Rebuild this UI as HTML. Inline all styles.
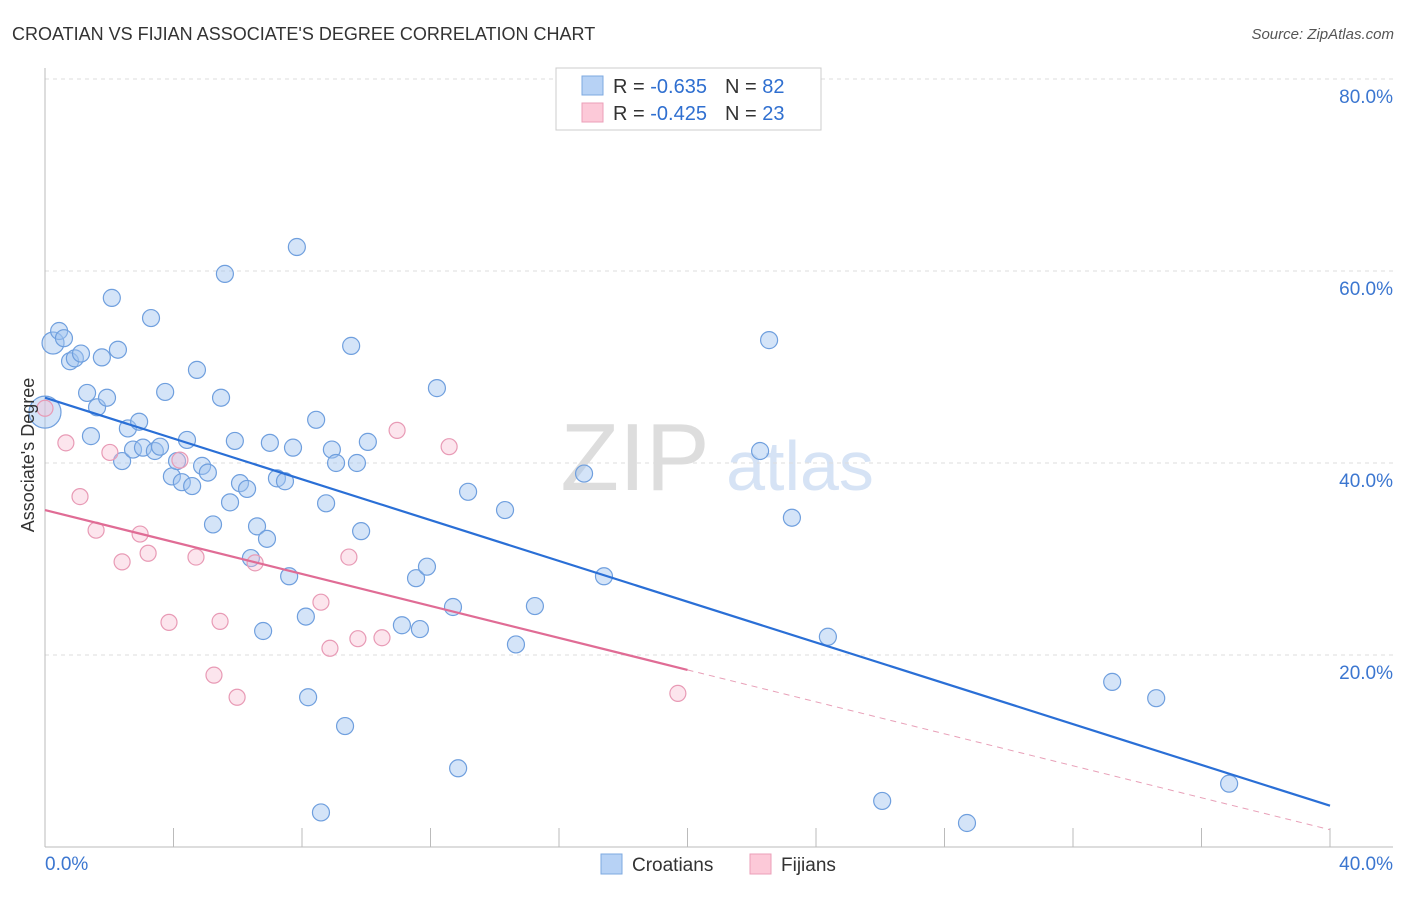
<!DOCTYPE html>
<html><head><meta charset="utf-8"><style>
body{margin:0;background:#fff;font-family:"Liberation Sans",sans-serif;}
svg text{font-family:"Liberation Sans",sans-serif;}
</style></head><body>
<svg id="chart" width="1406" height="892" xmlns="http://www.w3.org/2000/svg">
<text x="12" y="40" font-size="18" fill="#333">CROATIAN VS FIJIAN ASSOCIATE'S DEGREE CORRELATION CHART</text>
<text x="1394" y="39" font-size="15" fill="#555" text-anchor="end" font-style="italic">Source: ZipAtlas.com</text>
<g>
<text x="635" y="490" font-size="96" fill="#ddd" text-anchor="middle" font-family="Liberation Serif">ZIP</text>
<text x="800" y="490" font-size="70" fill="#d6e3f5" text-anchor="middle">atlas</text>
</g>
<g id="grid"></g>
<g id="axes"></g>
<g id="blue"></g>
<g id="pink"></g>
<g id="lines"></g>
<text transform="translate(34,455) rotate(-90)" font-size="18" fill="#333" text-anchor="middle">Associate's Degree</text>
<g>
<rect x="556" y="68" width="265" height="62" fill="#fff" stroke="#ccc"/>
<rect x="582" y="76" width="21" height="19" fill="#b7d2f5" stroke="#7ea9e0"/>
<rect x="582" y="103" width="21" height="19" fill="#fcc9d8" stroke="#eb9fb8"/>
<text x="613" y="93" font-size="20" fill="#333">R = <tspan fill="#2f6fd0">-0.635</tspan><tspan dx="18">N = </tspan><tspan fill="#2f6fd0">82</tspan></text>
<text x="613" y="120" font-size="20" fill="#333">R = <tspan fill="#2f6fd0">-0.425</tspan><tspan dx="18">N = </tspan><tspan fill="#2f6fd0">23</tspan></text>
</g>
<g>
<rect x="601" y="854" width="21" height="20" fill="#b7d2f5" stroke="#7ea9e0"/>
<text x="632" y="871" font-size="19" fill="#333">Croatians</text>
<rect x="750" y="854" width="21" height="20" fill="#fcc9d8" stroke="#eb9fb8"/>
<text x="781" y="871" font-size="19" fill="#333">Fijians</text>
</g>
</svg>
<script>
const yTicks=[20,40,60,80];
const yTickLabels=["20.0%","40.0%","60.0%","80.0%"];
const blueX=[0.25,0.44,0.59,0.78,0.93,1.12,0,1.31,1.43,1.62,1.77,1.93,2.08,2.27,2.40,2.58,2.74,2.93,3.05,3.30,3.42,3.58,3.74,3.95,4.11,4.26,4.42,4.58,4.73,4.89,5.07,5.23,5.48,5.60,5.76,5.91,6.07,6.29,6.41,6.60,6.79,6.91,7.00,7.22,7.47,7.60,7.72,7.84,8.12,8.19,8.44,8.59,8.75,8.93,9.06,9.34,9.53,9.71,9.84,10.05,11.11,11.55,11.67,11.89,12.20,12.70,12.86,13.17,14.32,14.66,15.25,16.78,17.40,22.26,22.54,23.25,24.37,26.06,28.70,33.22,34.59,36.86];
const blueY=[52.5,53.75,53.0,50.6,50.9,51.4,45.3,47.3,42.8,45.8,51.0,46.8,57.2,51.8,40.2,43.6,41.4,44.3,41.6,55.1,41.25,41.7,47.4,38.6,40.2,38.0,42.4,37.6,49.7,39.7,39.0,33.6,46.8,59.7,35.9,42.3,37.9,37.3,30.1,33.4,22.5,32.1,42.1,38.4,38.1,28.2,41.6,62.5,24.0,15.6,44.5,3.6,35.8,41.4,40.0,12.6,52.2,40.0,32.9,42.2,23.1,28.0,22.7,29.2,47.8,25.0,8.2,37.0,35.1,21.1,25.1,38.9,28.2,41.25,52.8,34.3,21.9,4.8,2.5,17.2,15.5,6.6];
const pinkX=[0,0.65,1.09,1.59,2.02,2.40,2.96,3.21,3.86,4.20,4.70,5.26,5.45,5.98,6.54,8.59,8.87,9.46,9.74,10.49,10.96,12.58,19.70];
const pinkY=[45.7,42.1,36.5,33.0,41.1,29.7,32.6,30.6,23.4,40.3,30.2,17.9,23.5,15.6,29.6,25.5,20.7,30.2,21.7,21.8,43.4,41.7,16.0];
const blueTrend=[46.8,4.3];
const pinkTrend=[35.1,1.8];
const pinkSolidEnd=20;
const X0=45,X1=1330,Y0=847;
const sx=v=>X0+(v/40)*(X1-X0);
const sy=v=>Y0-v*9.6;
const NS="http://www.w3.org/2000/svg";
function mk(tag,parent,attrs){const e=document.createElementNS(NS,tag);for(const k in attrs)e.setAttribute(k,attrs[k]);parent.appendChild(e);return e;}
const grid=document.getElementById('grid');
yTicks.forEach((t,i)=>{
 const l=mk('line',grid,{x1:X0,x2:1393,y1:sy(t),y2:sy(t),stroke:'#ddd','stroke-dasharray':'4,4'});
 
 
 const tx=mk('text',grid,{x:1393,y:sy(t)+24,'font-size':19,fill:'#3b76d0','text-anchor':'end'});
 tx.textContent=yTickLabels[i];
 
 
});
const ax=document.getElementById('axes');
mk('line',ax,{x1:X0,x2:X0,y1:68,y2:Y0,stroke:'#bbb'});
mk('line',ax,{x1:X0,x2:1393,y1:Y0,y2:Y0,stroke:'#bbb'});
for(let i=1;i<=10;i++){const t=mk('line',ax,{x1:sx(i*4),x2:sx(i*4),y1:828,y2:Y0,stroke:'#bbb'});
 
 }
const xl0=mk('text',ax,{x:45,y:870,'font-size':19,fill:'#3b76d0'});xl0.textContent='0.0%';


const xl1=mk('text',ax,{x:1393,y:870,'font-size':19,fill:'#3b76d0','text-anchor':'end'});xl1.textContent='40.0%';


const bg=document.getElementById('blue');
blueX.forEach((v,i)=>{
 const r=(i===6)?16:(i===0?11:8.5);
 const c=mk('circle',bg,{cx:sx(v),cy:sy(blueY[i]),r:r,fill:'rgba(160,196,240,0.45)',stroke:'#6f9fde','stroke-width':1.2});
 
 
});
const pg=document.getElementById('pink');
pinkX.forEach((v,i)=>{
 const c=mk('circle',pg,{cx:sx(v),cy:sy(pinkY[i]),r:8,fill:'rgba(248,190,210,0.4)',stroke:'#e89ab5','stroke-width':1.2});
 
 
});
const lg=document.getElementById('lines');
const bl=mk('line',lg,{x1:sx(0),y1:sy(blueTrend[0]),x2:sx(40),y2:sy(blueTrend[1]),stroke:'#2a6fd6','stroke-width':2.2});


const pAt=x=>pinkTrend[0]+(pinkTrend[1]-pinkTrend[0])*x/40;
const pl=mk('line',lg,{x1:sx(0),y1:sy(pAt(0)),x2:sx(pinkSolidEnd),y2:sy(pAt(pinkSolidEnd)),stroke:'#e06c95','stroke-width':2.2});


const pd=mk('line',lg,{x1:sx(pinkSolidEnd),y1:sy(pAt(pinkSolidEnd)),x2:sx(40),y2:sy(pAt(40)),stroke:'#e8a0b8','stroke-width':1,'stroke-dasharray':'6,5'});


</script>
</body></html>
